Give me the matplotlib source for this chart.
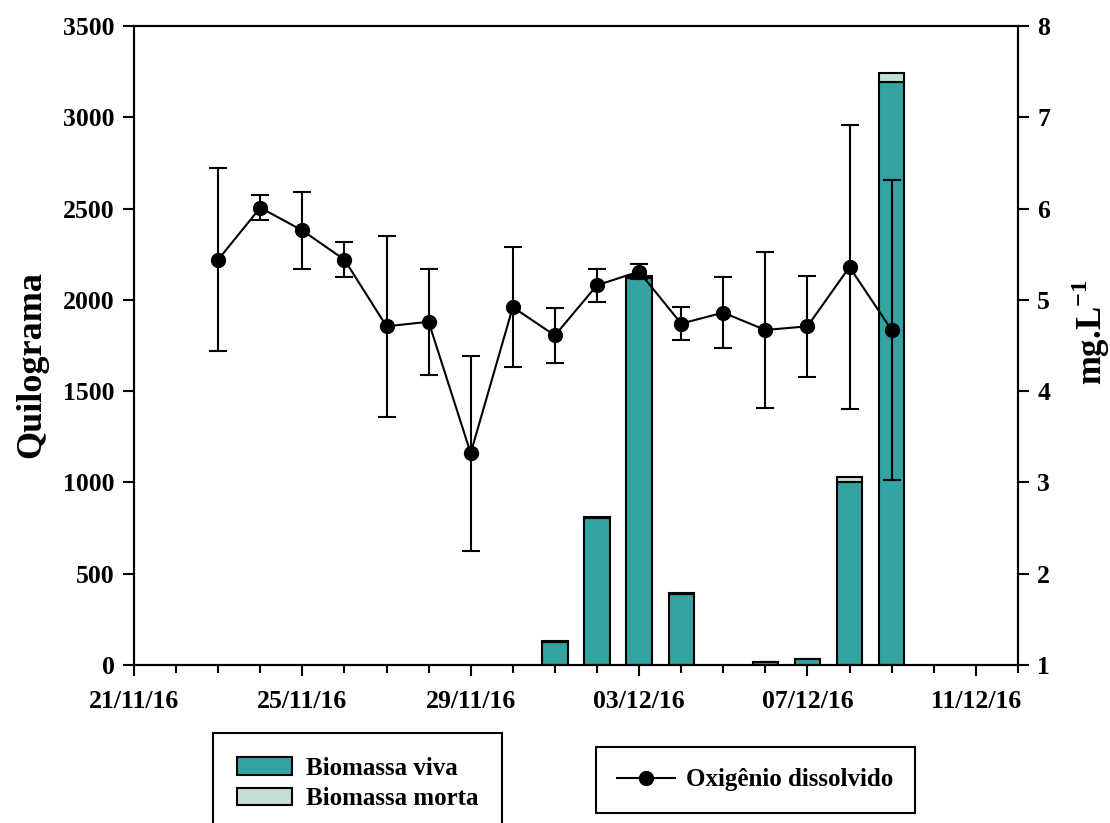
import numpy as np
import pandas as pd
import matplotlib
matplotlib.use('Agg')
import matplotlib.pyplot as plt
import matplotlib.dates as mdates
from matplotlib.ticker import FixedLocator

plt.rcParams['font.family'] = ['Liberation Serif', 'DejaVu Serif']
plt.rcParams['font.weight'] = 'bold'
plt.rcParams['mathtext.fontset'] = 'custom'
plt.rcParams['mathtext.rm'] = 'Liberation Serif:bold'
plt.rcParams['mathtext.bf'] = 'Liberation Serif:bold'
plt.rcParams['axes.unicode_minus'] = False

#%% Dados

# Biomassa (kg)
bioDates = pd.to_datetime(['2016-12-01', '2016-12-02', '2016-12-03', '2016-12-04',
                           '2016-12-06', '2016-12-07', '2016-12-08', '2016-12-09'])
bioViva = [127, 805, 2120, 390, 16, 31, 1000, 3195]
bioMorta = [6, 6, 8, 6, 0, 0, 32, 45]

# Oxigenio dissolvido (mg/L), media e desvio padrao
odDates = pd.date_range('2016-11-23', '2016-12-09', freq='D')
odMean = [5.44, 6.01, 5.76, 5.44, 4.71, 4.76, 3.32, 4.92, 4.61,
          5.16, 5.31, 4.74, 4.86, 4.67, 4.71, 5.36, 4.67]
odStd = [1.00, 0.14, 0.42, 0.19, 0.99, 0.58, 1.07, 0.66, 0.30,
         0.18, 0.08, 0.18, 0.39, 0.85, 0.55, 1.56, 1.64]

dateLabels = ['21/11/16', '25/11/16', '29/11/16', '03/12/16', '07/12/16', '11/12/16']

#%% Grafico

teal = '#33a3a3'
morta = '#c6dcd6'

fig = plt.figure(figsize=(11.1, 8.23), dpi=100)
ax = fig.add_axes([0.1207, 0.192, 0.7963, 0.7764])

b1 = ax.bar(bioDates, bioViva, width=0.6, color=teal, edgecolor='black',
            linewidth=1.5, label='Biomassa viva')
b2 = ax.bar(bioDates, bioMorta, width=0.6, bottom=bioViva, color=morta,
            edgecolor='black', linewidth=1.5, label='Biomassa morta')

ax.set_ylim(0, 3500)
ax.set_yticks(np.arange(0, 3501, 500))
ax.set_xlim(pd.to_datetime('2016-11-21'), pd.to_datetime('2016-12-12'))

majorTicks = pd.to_datetime(dateLabels, format='%d/%m/%y')
ax.set_xticks(majorTicks)
ax.set_xticklabels(dateLabels)
minorTicks = pd.date_range('2016-11-21', '2016-12-12', freq='D')
ax.xaxis.set_minor_locator(FixedLocator(mdates.date2num(minorTicks)))

ax.tick_params(axis='both', which='major', direction='out', length=8,
               width=1.5, labelsize=18.5)
ax.tick_params(axis='x', which='major', pad=10)
ax.tick_params(axis='x', which='minor', direction='out', length=6, width=1.5)
ax.tick_params(axis='y', which='major', pad=6)
for s in ax.spines.values():
    s.set_linewidth(1.5)
ax.set_ylabel('Quilograma', fontsize=26, fontweight='bold')
ax.yaxis.set_label_coords(-0.097, 0.47)

ax2 = ax.twinx()
ax2.errorbar(odDates, odMean, yerr=odStd, fmt='none', ecolor='black',
             elinewidth=1.5, capsize=6.5, capthick=1.5, zorder=3)
ln, = ax2.plot(odDates, odMean, '-o', color='black', linewidth=1.5,
               markersize=10, label='Oxigênio dissolvido', zorder=4)
ax2.set_ylim(1, 8)
ax2.set_yticks(range(1, 9))
ax2.tick_params(axis='y', direction='out', length=8, width=1.5,
                labelsize=18.5, pad=6)
ax2.set_ylabel('mg.L$^{\\mathrm{-1}}$', fontsize=25, fontweight='bold')
ax2.yaxis.set_label_coords(1.058, 0.52)
for s in ax2.spines.values():
    s.set_linewidth(1.5)

leg1 = fig.legend(handles=[b1, b2], loc='upper left',
                  bbox_to_anchor=(213 / 1110, 1 - 733 / 823), borderaxespad=0,
                  fontsize=18, frameon=True, fancybox=False, framealpha=1,
                  edgecolor='black', borderpad=0.95, handlelength=2.2,
                  handleheight=0.72, handletextpad=0.55, labelspacing=0.3)
leg1.get_frame().set_linewidth(1.5)

leg2 = fig.legend(handles=[ln], loc='upper left',
                  bbox_to_anchor=(596 / 1110, 1 - 747 / 823), borderaxespad=0,
                  fontsize=18, frameon=True, fancybox=False, framealpha=1,
                  edgecolor='black', borderpad=0.85, handlelength=2.3,
                  handletextpad=0.45, numpoints=1)
leg2.get_frame().set_linewidth(1.5)

fig.savefig('out.png', dpi=100)
